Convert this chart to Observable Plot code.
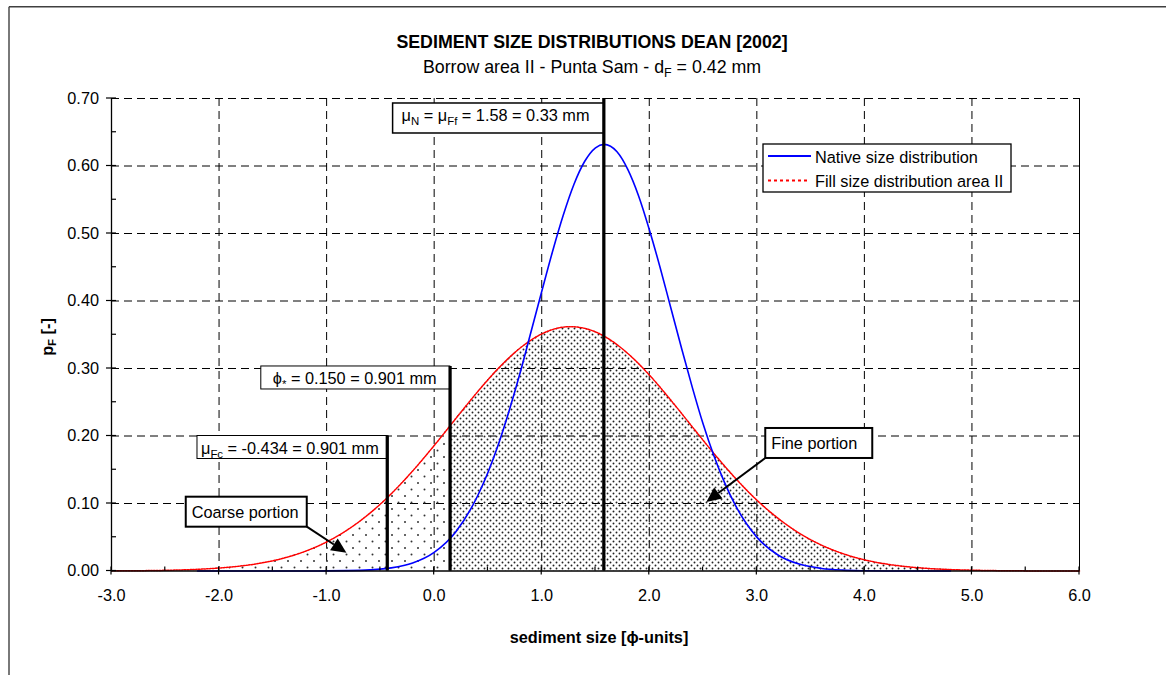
<!DOCTYPE html>
<html><head><meta charset="utf-8">
<script src="https://cdn.jsdelivr.net/npm/d3@7"></script>
<script src="https://cdn.jsdelivr.net/npm/@observablehq/plot@0.6"></script>
<style>
html,body{margin:0;padding:0;background:#fff;overflow:hidden}
#chart{position:relative;width:1166px;height:675px}
</style></head><body><div id="chart"></div>
<script>
const FONT = "'Liberation Sans', Arial, Helvetica, sans-serif";

// ---------- data ----------
const nativeX = [-2.2,-2.0,-1.8,-1.6,-1.4,-1.2,-1.0,-0.8,-0.6,-0.4,-0.2,0.0,0.2,0.4,0.5,0.6,0.7,0.8,0.9,1.0,1.1,1.2,1.3,1.4,1.5,1.58,1.7,1.8,1.9,2.0,2.1,2.2,2.3,2.4,2.5,2.6,2.7,2.8,3.0,3.2,3.4,3.6,3.8,4.0,4.2,4.4,4.6,4.8];
const nativeY = [0,0,0,0,0,0,0.0002,0.0005,0.0016,0.0046,0.0118,0.0275,0.0578,0.110,0.146,0.189,0.239,0.294,0.354,0.414,0.473,0.527,0.573,0.607,0.627,0.632,0.621,0.595,0.556,0.506,0.450,0.390,0.330,0.272,0.218,0.171,0.131,0.0975,0.0502,0.0234,0.0099,0.0038,0.0013,0.0004,0.0001,0,0,0];

const fillX = [-3.0,-2.8,-2.6,-2.4,-2.2,-2.0,-1.8,-1.6,-1.4,-1.2,-1.0,-0.8,-0.6,-0.434,-0.4,-0.2,0.0,0.15,0.2,0.4,0.6,0.8,1.0,1.2,1.27,1.4,1.6,1.8,2.0,2.2,2.4,2.6,2.8,3.0,3.2,3.4,3.6,3.8,4.0,4.2,4.4,4.6,4.8,5.0,5.2,5.4,5.6,5.8,6.0];
const fillY = [0.0002,0.0004,0.0007,0.0014,0.0025,0.0044,0.0074,0.0120,0.0190,0.0291,0.0430,0.0616,0.0853,0.1090,0.1143,0.1482,0.1859,0.2156,0.2256,0.2648,0.3007,0.3304,0.3512,0.3613,0.3620,0.3595,0.3461,0.3223,0.2905,0.2532,0.2136,0.1743,0.1376,0.1050,0.0777,0.0555,0.0384,0.0257,0.0166,0.0104,0.0063,0.0037,0.0021,0.0012,0.0006,0.0003,0.0001,0.0001,0.0000];

const xTicks = [-3,-2,-1,0,1,2,3,4,5,6];
const xMinor = [-2.5,-1.5,-0.5,0.5,1.5,2.5,3.5,4.5,5.5];
const yTicks = [0,0.1,0.2,0.3,0.4,0.5,0.6,0.7];
const yMinor = [0.05,0.15,0.25,0.35,0.45,0.55,0.65];

const muFc = -0.434, phiStar = 0.150, muN = 1.58;
const markerX = [muFc, phiStar, muN];
const markerTop = [0.20, 0.303, 0.70];
const markerLabels = [
  ["μ", ["Fc"], " = -0.434 = 0.901 mm"],
  ["ϕ", ["*"], " = 0.150 = 0.901 mm"],
  ["μ", ["N"], " = μ", ["Ff"], " = 1.58 = 0.33 mm"]
];
const portionLabels = ["Coarse portion", "Fine portion"];
const portionFrom = [[-1.18, 0.0649], [3.083, 0.1667]];
const portionTo = [[-0.811, 0.0264], [2.535, 0.1015]];
const seriesNames = ["Native size distribution", "Fill size distribution area II"];
const titleText = "SEDIMENT SIZE DISTRIBUTIONS DEAN [2002]";
const subtitleParts = ["Borrow area II - Punta Sam - d", ["F"], " = 0.42 mm"];

// ---------- build ----------
const nativeData = nativeX.map((x, i) => ({x, y: nativeY[i]}));
const fillData = fillX.map((x, i) => ({x, y: fillY[i]}));
const coarseArea = fillData.filter(d => d.x <= phiStar);
const fineArea = fillData.filter(d => d.x >= phiStar);
const vlines = markerX.map((x, i) => ({x, top: markerTop[i]}));

const dash = "8,5";
const chart = Plot.plot({
  width: 1166, height: 675,
  marginLeft: 111, marginRight: 87, marginTop: 98, marginBottom: 104.5,
  x: {domain: [-3, 6]},
  y: {domain: [0, 0.7]},
  style: {fontFamily: FONT, fontSize: "16.3px", color: "black", background: "white", overflow: "visible"},
  marks: [
    Plot.ruleX(xTicks.filter(v => v > -3 && v < 6), {stroke: "black", strokeWidth: 1, strokeDasharray: dash}),
    Plot.ruleY(yTicks.filter(v => v > 0), {stroke: "black", strokeWidth: 1, strokeDasharray: dash}),
    Plot.areaY(coarseArea, {x: "x", y: "y", fill: "url(#sparse)", curve: "monotone-x"}),
    Plot.areaY(fineArea, {x: "x", y: "y", fill: "url(#dense)", curve: "monotone-x"}),
    Plot.line(fillData, {x: "x", y: "y", stroke: "#ff0000", strokeWidth: 1.5, strokeDasharray: "1.6,1.2", curve: "monotone-x"}),
    Plot.line(nativeData, {x: "x", y: "y", stroke: "#0000ff", strokeWidth: 1.6, curve: "monotone-x"}),
    Plot.ruleX(vlines, {x: "x", y1: 0, y2: "top", stroke: "black", strokeWidth: 2.7}),
    Plot.ruleX([6], {stroke: "black", strokeWidth: 1}),
    Plot.ruleY([0], {stroke: "black", strokeWidth: 1.3}),
    Plot.ruleX([-3], {stroke: "black", strokeWidth: 1.3}),
    Plot.axisX({ticks: xTicks, tickSize: 0, tickPadding: 18.5, tickFormat: d => d.toFixed(1), label: null, fontSize: 16.3}),
    Plot.axisY({ticks: yTicks, tickSize: 0, tickPadding: 12.5, tickFormat: d => d.toFixed(2), label: null, fontSize: 16.3})
  ]
});
document.getElementById("chart").appendChild(chart);

const xs = chart.scale("x"), ys = chart.scale("y");
const sx = v => xs.apply(v), sy = v => ys.apply(v);
const svg = d3.select(chart);

// patterns
const defs = svg.append("defs");
const sp = defs.append("pattern").attr("id", "sparse").attr("patternUnits", "userSpaceOnUse").attr("width", 13).attr("height", 13);
sp.append("circle").attr("cx", 2).attr("cy", 2).attr("r", 1).attr("fill", "#333");
sp.append("circle").attr("cx", 8.5).attr("cy", 8.5).attr("r", 1).attr("fill", "#333");
const dp = defs.append("pattern").attr("id", "dense").attr("patternUnits", "userSpaceOnUse").attr("width", 6).attr("height", 6);
dp.append("circle").attr("cx", 1.5).attr("cy", 1.5).attr("r", 0.95).attr("fill", "#222");
dp.append("circle").attr("cx", 4.5).attr("cy", 4.5).attr("r", 0.95).attr("fill", "#222");

// ticks
const tk = svg.append("g").attr("stroke", "black").attr("stroke-width", 1.2);
const x0 = sx(-3), y0 = sy(0);
xTicks.forEach(v => tk.append("line").attr("x1", sx(v)).attr("x2", sx(v)).attr("y1", y0 - 4).attr("y2", y0 + 4));
xMinor.forEach(v => tk.append("line").attr("x1", sx(v)).attr("x2", sx(v)).attr("y1", y0 - 4).attr("y2", y0));
yTicks.forEach(v => tk.append("line").attr("x1", x0 - 5).attr("x2", x0 + 5).attr("y1", sy(v)).attr("y2", sy(v)));
yMinor.forEach(v => tk.append("line").attr("x1", x0).attr("x2", x0 + 5).attr("y1", sy(v)).attr("y2", sy(v)));

// outer frame (left and top edges visible)
svg.append("line").attr("x1", 9).attr("x2", 9).attr("y1", 6.7).attr("y2", 680).attr("stroke", "#404040").attr("stroke-width", 1.4);
svg.append("line").attr("x1", 9).attr("x2", 1170).attr("y1", 6.7).attr("y2", 6.7).attr("stroke", "#404040").attr("stroke-width", 1.4);

function rich(g, x, y, parts, o = {}) {
  const t = g.append("text").attr("x", x).attr("y", y)
    .attr("font-family", FONT).attr("font-size", o.size || 16.3)
    .attr("font-weight", o.weight || "normal").attr("text-anchor", o.anchor || "start")
    .attr("fill", "black").style("white-space", "pre");
  if (o.transform) t.attr("transform", o.transform);
  let shifted = false;
  const sh = o.sub || 4;
  for (const p of parts) {
    const isSub = typeof p !== "string";
    const ts = t.append("tspan").text(isSub ? p[0] : p);
    if (isSub) {
      ts.attr("font-size", "0.7em");
      if (!shifted) { ts.attr("dy", sh); shifted = true; }
    } else if (shifted) { ts.attr("dy", -sh); shifted = false; }
  }
  return t;
}

const ov = svg.append("g");
// titles
rich(ov, 592, 48.3, [titleText], {size: 17.8, weight: "bold", anchor: "middle"});
rich(ov, 592, 73.3, subtitleParts, {size: 17.8, anchor: "middle"});
rich(ov, 599, 642.5, ["sediment size [ϕ-units]"], {weight: "bold", anchor: "middle"});
rich(ov, 0, 0, ["p", ["F"], " [-]"], {weight: "bold", anchor: "middle", transform: "translate(53.3,337) rotate(-90)", sub: 3});

// marker boxes (right edge on the marker line)
const markerBox = [
  {w: 190, h: 23, padL: 4, base: 18.5, sw: 1},
  {w: 189, h: 23, padL: 12, base: 18, sw: 1},
  {w: 211, h: 30, padL: 9, base: 18, sw: 1.5}
];
markerX.forEach((mx, i) => {
  const b = markerBox[i];
  const right = sx(mx), t0 = i === 2 ? sy(0.6926) : sy(markerTop[i]);
  ov.append("rect").attr("x", right - b.w).attr("y", t0).attr("width", b.w).attr("height", b.h)
    .attr("fill", "white").attr("stroke", "black").attr("stroke-width", b.sw);
  rich(ov, right - b.w + b.padL, t0 + b.base, markerLabels[i], {sub: 4});
});
markerX.forEach((mx, i) => {
  ov.append("line").attr("x1", sx(mx)).attr("x2", sx(mx)).attr("y1", sy(0)).attr("y2", sy(markerTop[i]))
    .attr("stroke", "black").attr("stroke-width", 2.7);
});

// portion boxes with arrows
const portionBox = [{w: 121, h: 30, side: "right"}, {w: 107, h: 30, side: "left"}];
portionLabels.forEach((lab, i) => {
  const b = portionBox[i];
  const [fx, fy] = portionFrom[i], [tx, ty] = portionTo[i];
  const cx = sx(fx), cy = sy(fy);
  const left = b.side === "right" ? cx - b.w : cx;
  const t0 = cy - b.h;
  const px = sx(tx), py = sy(ty);
  const dx = px - cx, dy = py - cy, L = Math.hypot(dx, dy);
  const ux = dx / L, uy = dy / L, hl = 15, hw = 7;
  const bx = px - ux * hl, by = py - uy * hl;
  ov.append("line").attr("x1", cx).attr("y1", cy).attr("x2", bx).attr("y2", by).attr("stroke", "black").attr("stroke-width", 2);
  ov.append("polygon").attr("points", [[px, py], [bx - uy * hw, by + ux * hw], [bx + uy * hw, by - ux * hw]].map(p => p.join(",")).join(" ")).attr("fill", "black");
  ov.append("rect").attr("x", left).attr("y", t0).attr("width", b.w).attr("height", b.h)
    .attr("fill", "white").attr("stroke", "black").attr("stroke-width", 2);
  rich(ov, left + 6, t0 + 21, [lab]);
});

// legend
const lg = ov.append("g");
lg.append("rect").attr("x", 763).attr("y", 144).attr("width", 248).attr("height", 48).attr("fill", "white").attr("stroke", "black").attr("stroke-width", 1.3);
lg.append("line").attr("x1", 768).attr("x2", 811).attr("y1", 156).attr("y2", 156).attr("stroke", "#0000ff").attr("stroke-width", 1.8);
lg.append("line").attr("x1", 768).attr("x2", 810).attr("y1", 180.5).attr("y2", 180.5).attr("stroke", "#ff0000").attr("stroke-width", 2).attr("stroke-dasharray", "3,3");
rich(lg, 815, 163, [seriesNames[0]]);
rich(lg, 815, 187, [seriesNames[1]]);
</script></body></html>
